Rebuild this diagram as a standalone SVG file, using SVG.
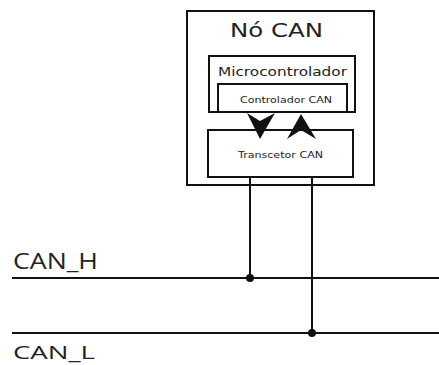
<svg xmlns="http://www.w3.org/2000/svg" width="439" height="365" viewBox="0 0 439 365">
<style>
.box{fill:#fff;stroke:#111;stroke-width:2}
.wire{stroke:#111;stroke-width:2;fill:none}
.t{font-family:"DejaVu Sans",Verdana,sans-serif;fill:#222}
.lbl{font-family:"Open Sans","DejaVu Sans",sans-serif;fill:#222}
</style>
<rect width="439" height="365" fill="#fff"/>
<g id="no-can">
<rect class="box" x="187" y="11" width="187" height="174"/>
<text class="t" x="230" y="37" font-size="20" textLength="93" lengthAdjust="spacingAndGlyphs">Nó CAN</text>
</g>
<g id="microcontrolador">
<rect class="box" x="209" y="56" width="146" height="56"/>
<text class="t" x="218" y="76" font-size="12.5" textLength="129" lengthAdjust="spacingAndGlyphs">Microcontrolador</text>
</g>
<g id="controlador-can">
<rect class="box" x="218" y="84" width="129" height="28"/>
<text class="t" x="240" y="103" font-size="9.5" textLength="92" lengthAdjust="spacingAndGlyphs">Controlador CAN</text>
</g>
<g id="transcetor-can">
<rect class="box" x="208" y="130" width="145" height="47"/>
<text class="t" x="238" y="158" font-size="9.5" textLength="85" lengthAdjust="spacingAndGlyphs">Transcetor CAN</text>
</g>
<g id="can-h">
<text class="lbl" x="13" y="269" font-size="21" textLength="85" lengthAdjust="spacingAndGlyphs">CAN_H</text>
</g>
<g id="can-l">
<text class="lbl" x="13" y="359" font-size="19" textLength="82" lengthAdjust="spacingAndGlyphs">CAN_L</text>
</g>
<g id="connectors">
<path d="M247 113 L260 121 L275 113 L260 139 Z" fill="#111"/>
<path d="M301 114 L316 139 L301 130 L287 139 Z" fill="#111"/>
<line class="wire" x1="250" y1="177" x2="250" y2="278"/>
<line class="wire" x1="312" y1="177" x2="312" y2="333"/>
<line class="wire" x1="12" y1="278" x2="439" y2="278"/>
<line class="wire" x1="12" y1="333" x2="439" y2="333"/>
<circle cx="250" cy="278" r="4" fill="#111"/>
<circle cx="312" cy="333" r="4" fill="#111"/>
</g>
</svg>
